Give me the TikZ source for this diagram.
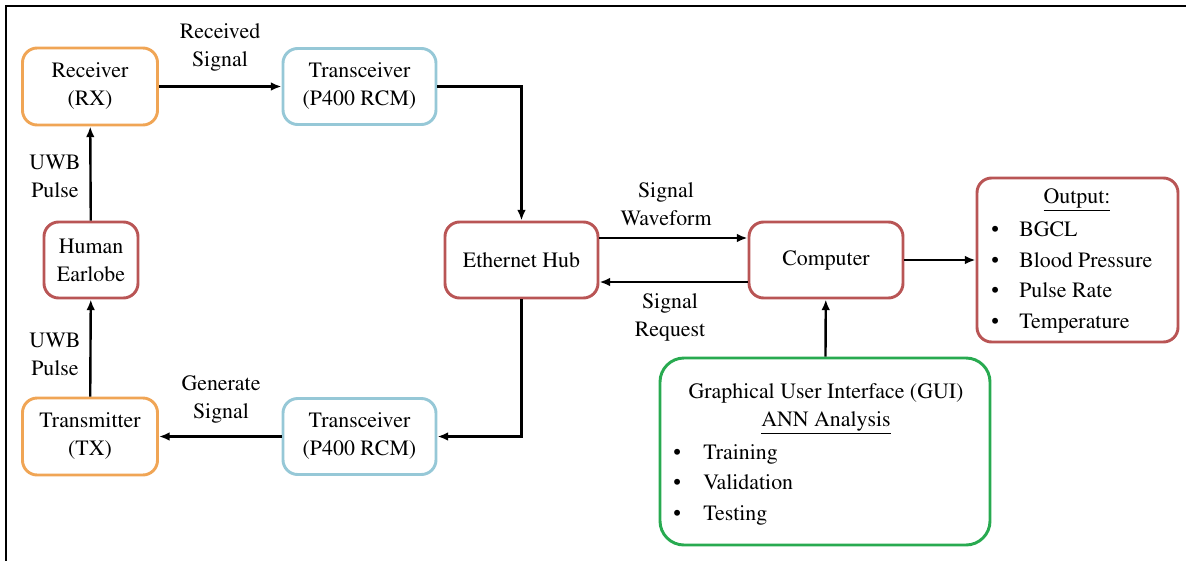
\documentclass[tikz,border=0pt]{standalone}
\usepackage[T1]{fontenc}
\renewcommand{\rmdefault}{ptm}
\usetikzlibrary{arrows.meta}
\definecolor{cOrange}{RGB}{240,165,85}
\definecolor{cBlue}{RGB}{150,200,215}
\definecolor{cRed}{RGB}{185,85,85}
\definecolor{cGreen}{RGB}{40,170,80}
\begin{document}
\begin{tikzpicture}[x=0.75pt,y=-0.75pt,
  txt/.style={font=\rmfamily\fontsize{16.4}{21}\selectfont, align=center, inner sep=0pt},
  box/.style={txt, draw, line width=2.2pt, rounded corners=11pt, fill=white},
  smallbox/.style={box, minimum width=101.25pt, minimum height=57.75pt},
  widebox/.style={box, minimum width=114.75pt, minimum height=57pt},
  item/.style={txt, anchor=west, text height=11.5pt, text depth=3.5pt},
  arr/.style={line width=1.8pt, -{Latex[length=8pt,width=6.5pt]}},
  frame/.style={line width=2.2pt}
]
\useasboundingbox (0,0) rectangle (1186,561);
\coordinate (f0) at (6,6);
\coordinate (f1) at (1186,6);
\coordinate (f2) at (6,561);
\draw[frame] (f1) -- (f0) -- (f2);

% nodes
\node[smallbox, draw=cOrange] (rx) at (90,86.5) {Receiver\\(RX)};
\node[widebox, draw=cBlue] (tr1) at (359.5,86.5) {Transceiver\\(P400 RCM)};
\node[box, draw=cRed, minimum width=70.5pt, minimum height=57pt] (ear) at (91,260) {Human\\Earlobe};
\node[smallbox, draw=cOrange] (tx) at (90,436.5) {Transmitter\\(TX)};
\node[widebox, draw=cBlue] (tr2) at (359.5,436.5) {Transceiver\\(P400 RCM)};
\node[widebox, draw=cRed] (eth) at (521.5,260) {Ethernet Hub};
\node[box, draw=cRed, minimum width=115.5pt, minimum height=57pt] (comp) at (826,260) {Computer};
\node[box, draw=cRed, minimum width=150.75pt, minimum height=123pt] (out) at (1077.5,260) {};
\node[box, draw=cGreen, minimum width=247.5pt, minimum height=140.25pt, rounded corners=18pt] (gui) at (825,451.5) {};

% output list
\node[txt] (outT) at (1077,200) {\underline{Output:}};
\node[item] (ob1) at (991,231) {\textbullet};
\node[item] (ob2) at (991,262) {\textbullet};
\node[item] (ob3) at (991,292.5) {\textbullet};
\node[item] (ob4) at (991,323) {\textbullet};
\node[item] (oi1) at (1019,231) {BGCL};
\node[item] (oi2) at (1019,262) {Blood Pressure};
\node[item] (oi3) at (1019,292.5) {Pulse Rate};
\node[item] (oi4) at (1019,323) {Temperature};

% GUI list
\node[txt] (guiT) at (826,393) {Graphical User Interface (GUI)};
\node[txt] (guiA) at (826,423) {\underline{ANN Analysis}};
\node[item] (gb1) at (673,454) {\textbullet};
\node[item] (gb2) at (673,484.5) {\textbullet};
\node[item] (gb3) at (673,515.5) {\textbullet};
\node[item] (gi1) at (703,454) {Training};
\node[item] (gi2) at (703,484.5) {Validation};
\node[item] (gi3) at (703,515.5) {Testing};

% connectors
\draw[arr] (rx) -- (tr1);
\draw[arr] (tr1.east) -| (eth.north);
\draw[arr] (eth.south) |- (tr2.east);
\draw[arr] (tr2) -- (tx);
\draw[arr] (tx) -- (ear);
\draw[arr] (ear) -- (rx);
\draw[arr] ([yshift=16.5pt]eth.east) -- ([yshift=16.5pt]comp.west);
\draw[arr] ([yshift=-16.5pt]comp.west) -- ([yshift=-16.5pt]eth.east);
\draw[arr] (comp) -- (out);
\draw[arr] (gui) -- (comp);

% labels
\node[txt] (lRS) at (220,47) {Received\\Signal};
\node[txt] (lU1) at (55,176) {UWB\\Pulse};
\node[txt] (lU2) at (55,354) {UWB\\Pulse};
\node[txt] (lGS) at (221,399) {Generate\\Signal};
\node[txt] (lSW) at (666,204) {Signal\\Waveform};
\node[txt] (lSR) at (670,317) {Signal\\Request};
\end{tikzpicture}
\end{document}
